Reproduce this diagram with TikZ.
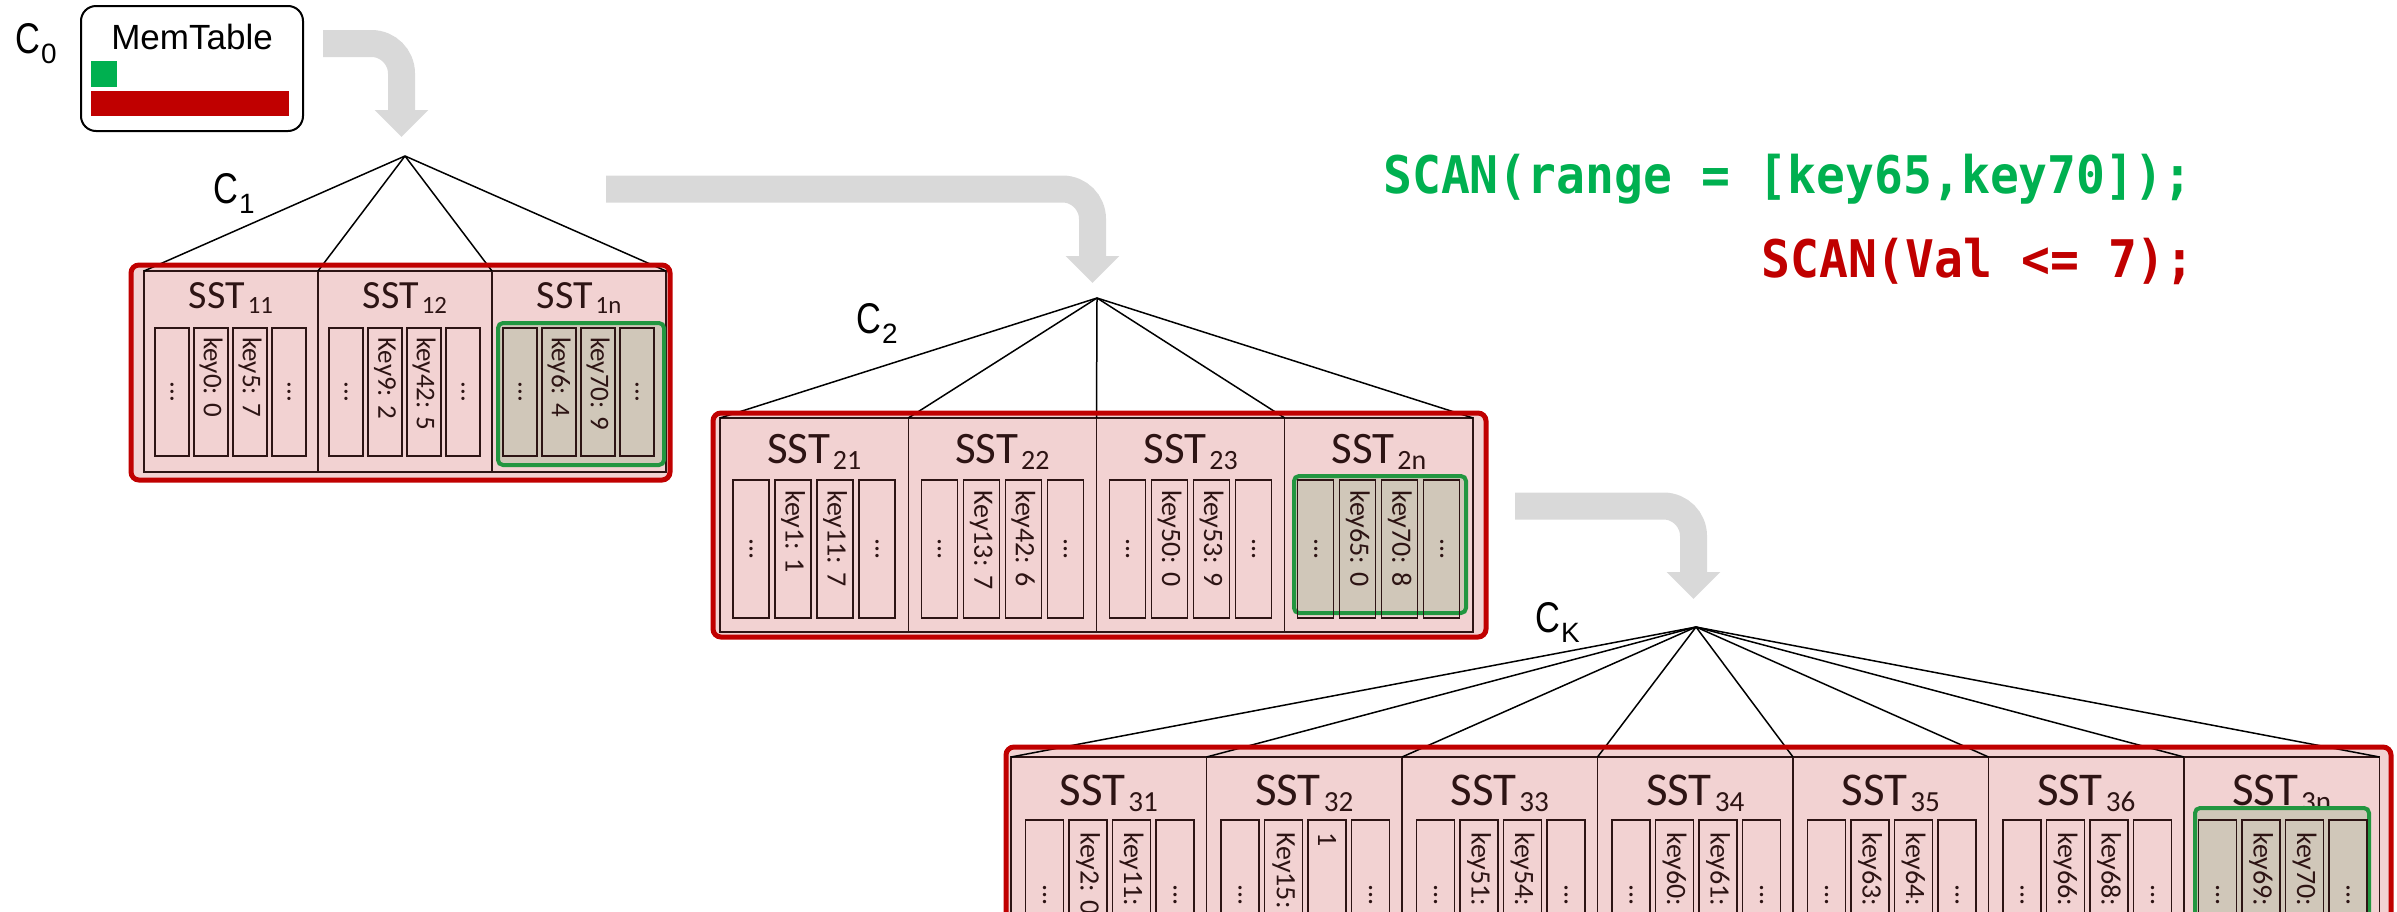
\documentclass[tikz,border=0pt]{standalone}
\usepackage{fontspec}
\usepackage{graphicx}
\setmainfont{Carlito}
\newfontfamily\labelfont{Liberation Sans}
\newfontfamily\codefont{DejaVu Sans Mono}
\usetikzlibrary{arrows.meta,positioning,calc}
\definecolor{lsmred}   {RGB}{192,0,0}
\definecolor{lsmgreen} {RGB}{0,176,80}
\definecolor{hitgreen} {RGB}{34,150,64}
\definecolor{sstpink}  {RGB}{242,210,210}
\definecolor{hittan}   {RGB}{208,199,185}
\definecolor{flowgray} {RGB}{217,217,217}
\definecolor{inkbrown} {RGB}{45,20,20}
\newcommand{\lvlname}[1]{\scalebox{0.8}[1]{C}\kern1pt\raisebox{-0.25em}{\scalebox{0.65}{#1}}}
\newcommand{\sstname}[1]{SST\kern3pt\raisebox{-0.14em}{\scalebox{0.62}{#1}}}

\begin{document}
\begin{tikzpicture}[
  x=1pt, y=-1pt,
  flow/.style={line width=27pt, flowgray, rounded corners=30pt,
               -{Triangle[length=27pt,width=52pt]}},
  fan/.style={line width=1.5pt, black},
  lvlframe/.style={draw=lsmred, line width=5pt, rounded corners=8pt},
  lvllabel/.style={font=\labelfont\fontsize{43}{47}\selectfont,
                   inner sep=0pt, anchor=base west},
  sstcell/.style={draw=inkbrown, line width=1.2pt, anchor=north west,
                  inner sep=0pt, outer sep=0pt},
  ssttitle/.style={anchor=base, inner sep=0pt, text=inkbrown, font=#1},
  kvcol/.style 2 args={draw=inkbrown, line width=1.2pt, anchor=north west,
                       inner sep=0pt, outer sep=0pt,
                       minimum width=#1, minimum height=#2},
  kvtxt/.style={rotate=-90, anchor=west, inner sep=0pt, text=inkbrown},
  dotmark/.style={rotate=-90, inner sep=0pt, text=inkbrown},
  hitbox/.style={draw=hitgreen, fill=hittan, line width=4pt,
                 rounded corners=5pt},
  codetxt/.style={font=\codefont\bfseries\fontsize{48}{52}\selectfont,
                  inner sep=0pt},
]
\useasboundingbox (0,0) rectangle (2397,911);

%% ── C0: MemTable ─────────────────────────────────────────────────────────────
\node[lvllabel] (c0) at (15,53) {\lvlname{0}};
\node[draw=black, line width=2pt, rounded corners=15pt, anchor=north west,
      minimum width=222pt, minimum height=125pt, inner sep=0pt] (mem) at (80,5) {};
\node[font=\labelfont\fontsize{35}{38}\selectfont, anchor=base, inner sep=0pt]
  (memtxt) at ($(mem.north)+(0,44)$) {MemTable};
\node[fill=lsmgreen, anchor=north west, minimum width=26pt, minimum height=26pt,
      inner sep=0pt] (memnew) at (91,61) {};
\node[fill=lsmred, anchor=north west, minimum width=198pt, minimum height=25pt,
      inner sep=0pt] (memold) at (91,91) {};

%% ── Flush / compaction arrows ────────────────────────────────────────────────
\coordinate (f1a) at (323,43.5);   \coordinate (f1b) at (401.5,137);
\coordinate (f2a) at (606,189);    \coordinate (f2b) at (1092.5,283);
\coordinate (f3a) at (1515,506);   \coordinate (f3b) at (1693.5,599);
\draw[flow] (f1a) -| (f1b);
\draw[flow] (f2a) -| (f2b);
\draw[flow] (f3a) -| (f3b);

%% ── Queries ──────────────────────────────────────────────────────────────────
\node[codetxt, text=lsmgreen, anchor=base west] (qrange) at (1383,193)
  {\scalebox{1}[1.08]{SCAN(range = [key65,key70]);}};
\node[codetxt, text=lsmred, anchor=base east] (qval) at (2195,277)
  {\scalebox{1}[1.08]{SCAN(Val <= 7);}};

%% ── Level C1 ─────────────────────────────────────────────────────────────────
\coordinate (t1) at (405,156);
\node[lvllabel] (c1) at (213,203) {\lvlname{1}};
\fill[sstpink, rounded corners=8pt] (131,265) rectangle (670,480);
\node[sstcell, minimum width=174pt, minimum height=201pt] (s11) at (144,271) {};
\node[sstcell, minimum width=174pt, minimum height=201pt] (s12) at (s11.north east) {};
\node[sstcell, minimum width=174pt, minimum height=201pt] (s1n) at (s12.north east) {};
\foreach \cell/\sub in {s11/11, s12/12, s1n/1n}
  \node[ssttitle=\fontsize{40}{43}\selectfont] (\cell-t)
    at ($(\cell.north)+(0,37)$) {\sstname{\sub}};
\draw[hitbox] (498,323) rectangle (664,465);
\begin{scope}[font=\fontsize{27}{30}\selectfont]
\foreach \cell/\ka/\kb in {s11/key0: 0/key5: 7, s12/Key9: 2/key42: 5,
                           s1n/key6: 4/key70: 9}{
  \foreach \i in {0,...,3}
    \node[kvcol={34pt}{128pt}] (\cell-c\i) at ($(\cell.north west)+(11+39*\i,57)$) {};
  \node[dotmark] (\cell-d0) at (\cell-c0) {...};
  \node[dotmark] (\cell-d3) at (\cell-c3) {...};
  \node[kvtxt] (\cell-k1) at ($(\cell-c1.north)+(0,9)$) {\ka};
  \node[kvtxt] (\cell-k2) at ($(\cell-c2.north)+(0,9)$) {\kb};
}
\end{scope}
\foreach \p in {s11.north west, s12.north west, s1n.north west, s1n.north east}
  \draw[fan] (t1) -- (\p);
\draw[lvlframe] (131,265) rectangle (670,480);

%% ── Level C2 ─────────────────────────────────────────────────────────────────
\coordinate (t2) at (1097,298);
\node[lvllabel] (c2) at (856,333) {\lvlname{2}};
\fill[sstpink, rounded corners=8pt] (713,413) rectangle (1486,637);
\node[sstcell, minimum width=188.25pt, minimum height=214pt] (s21) at (720,418) {};
\node[sstcell, minimum width=188.25pt, minimum height=214pt] (s22) at (s21.north east) {};
\node[sstcell, minimum width=188.25pt, minimum height=214pt] (s23) at (s22.north east) {};
\node[sstcell, minimum width=188.25pt, minimum height=214pt] (s2n) at (s23.north east) {};
\foreach \cell/\sub in {s21/21, s22/22, s23/23, s2n/2n}
  \node[ssttitle=\fontsize{45}{48}\selectfont] (\cell-t)
    at ($(\cell.north)+(0,45)$) {\sstname{\sub}};
\draw[hitbox] (1294,476) rectangle (1466,613);
\begin{scope}[font=\fontsize{28}{31}\selectfont]
\foreach \cell/\ka/\kb in {s21/key1: 1/key11: 7, s22/Key13: 7/key42: 6,
                           s23/key50: 0/key53: 9, s2n/key65: 0/key70: 8}{
  \foreach \i in {0,...,3}
    \node[kvcol={36pt}{138pt}] (\cell-c\i) at ($(\cell.north west)+(13+42*\i,62)$) {};
  \node[dotmark] (\cell-d0) at (\cell-c0) {...};
  \node[dotmark] (\cell-d3) at (\cell-c3) {...};
  \node[kvtxt] (\cell-k1) at ($(\cell-c1.north)+(0,10)$) {\ka};
  \node[kvtxt] (\cell-k2) at ($(\cell-c2.north)+(0,10)$) {\kb};
}
\end{scope}
\foreach \p in {s21.north west, s22.north west, s23.north west,
                s2n.north west, s2n.north east}
  \draw[fan] (t2) -- (\p);
\draw[lvlframe] (713,413) rectangle (1486,637);

%% ── Level CK ─────────────────────────────────────────────────────────────────
\coordinate (t3) at (1696,627);
\node[lvllabel] (ck) at (1535,632) {\lvlname{K}};
\fill[sstpink, rounded corners=8pt] (1006,747) rectangle (2391,1030);
\node[sstcell, minimum width=195.5pt, minimum height=260pt] (s31) at (1011,757) {};
\node[sstcell, minimum width=195.5pt, minimum height=260pt] (s32) at (s31.north east) {};
\node[sstcell, minimum width=195.5pt, minimum height=260pt] (s33) at (s32.north east) {};
\node[sstcell, minimum width=195.5pt, minimum height=260pt] (s34) at (s33.north east) {};
\node[sstcell, minimum width=195.5pt, minimum height=260pt] (s35) at (s34.north east) {};
\node[sstcell, minimum width=195.5pt, minimum height=260pt] (s36) at (s35.north east) {};
\node[sstcell, minimum width=195.5pt, minimum height=260pt] (s3n) at (s36.north east) {};
\foreach \cell/\sub in {s31/31, s32/32, s33/33, s34/34, s35/35, s36/36, s3n/3n}
  \node[ssttitle=\fontsize{47}{50}\selectfont] (\cell-t)
    at ($(\cell.north)+(0,48)$) {\sstname{\sub}};
\draw[hitbox] (2195,808) rectangle (2369,1020);
\begin{scope}[font=\fontsize{28}{31}\selectfont]
\foreach \cell/\ka/\kb in {s31/key2: 0/key11:, s32/Key15:/1, s33/key51:/key54:,
                           s34/key60:/key61:, s35/key63:/key64:,
                           s36/key66:/key68:, s3n/key69:/key70:}{
  \foreach \i in {0,...,3}
    \node[kvcol={38pt}{170pt}] (\cell-c\i) at ($(\cell.north west)+(14.5+43.5*\i,63)$) {};
  \node[dotmark] (\cell-d0) at ($(\cell-c0.north)+(0,75)$) {...};
  \node[dotmark] (\cell-d3) at ($(\cell-c3.north)+(0,75)$) {...};
  \node[kvtxt] (\cell-k1) at ($(\cell-c1.north)+(0,12)$) {\ka};
  \node[kvtxt] (\cell-k2) at ($(\cell-c2.north)+(0,12)$) {\kb};
}
\end{scope}
\foreach \p in {s31.north west, s32.north west, s33.north west, s34.north west,
                s35.north west, s36.north west, s3n.north west, s3n.north east}
  \draw[fan] (t3) -- (\p);
\draw[lvlframe] (1006,747) rectangle (2391,1030);

\end{tikzpicture}
\end{document}
